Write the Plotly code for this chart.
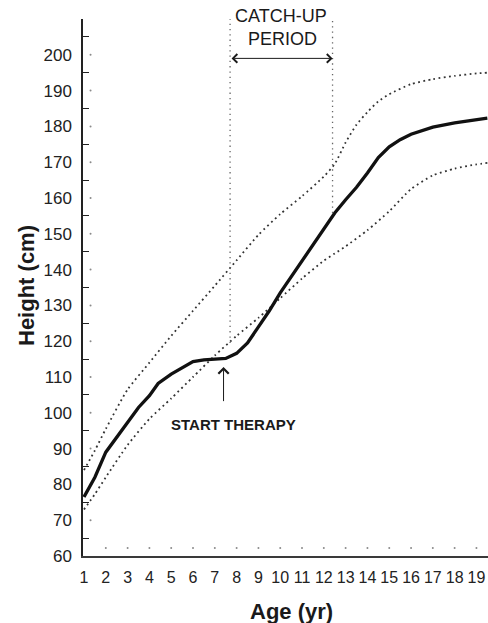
import plotly.graph_objects as go

# ---- data ----
age_main = [1, 1.5, 2, 2.5, 3, 3.5, 4, 4.4, 5, 6, 6.5, 7, 7.5, 8, 8.5, 9, 9.5, 10,
            11, 12, 12.5, 13, 13.5, 14, 14.5, 15, 15.5, 16, 17, 18, 19, 19.5]
height_main = [76.5, 82, 89, 93.3, 97.5, 101.5, 104.8, 108.2, 110.8, 114.3, 114.8, 115,
               115.2, 116.6, 119.5, 124, 128.5, 133.5, 142.5, 151.5, 155.8, 159.5, 163,
               167, 171.3, 174.3, 176.3, 177.8, 179.8, 181, 182, 182.3]

age_upper = [1, 1.5, 2, 3, 4, 5, 6, 7, 8, 9, 10, 11, 12, 12.5, 13, 13.5, 14, 14.5,
             15, 16, 17, 18, 19, 19.5]
height_upper = [84, 89.5, 95.5, 106.5, 114, 121.5, 128.5, 135.5, 142.6, 149.7, 155.5,
                160.5, 166, 169.5, 175.5, 180.5, 184, 187, 189, 191.8, 193.2, 194.1,
                194.8, 195]

age_lower = [1, 1.5, 2, 3, 4, 5, 6, 7, 8, 9, 10, 11, 12, 12.5, 13, 14, 15, 16, 17,
             18, 19, 19.5]
height_lower = [73, 77.3, 82, 91, 98.3, 104, 110, 116, 121.5, 126.5, 132, 137.5, 142.5,
                144.5, 146.5, 151, 156.3, 162.5, 166.3, 168.2, 169.4, 169.8]

x_ticks = list(range(1, 20))
y_ticks = list(range(60, 201, 10))
y_minor_ticks = list(range(65, 206, 10))

catch_up_start = 7.7
catch_up_end = 12.4
catch_up_arrow_h = 199
therapy_age = 7.4
therapy_arrow_tail = 102.7
therapy_arrow_head = 112.8
y_top = 210

FONT = "Liberation Sans, Arial, sans-serif"
INK = "#1a1a1a"

fig = go.Figure()

# faint tick dots inside the axes
fig.add_trace(go.Scatter(
    x=x_ticks[1:], y=[62.2] * (len(x_ticks) - 1), mode="markers",
    marker=dict(size=2, color="#8a8a8a"), hoverinfo="skip", showlegend=False))
fig.add_trace(go.Scatter(
    x=[1.3] * (len(y_ticks) - 1), y=y_ticks[1:], mode="markers",
    marker=dict(size=2, color="#8a8a8a"), hoverinfo="skip", showlegend=False))

# percentile limits (dotted)
for ax_, hy in ((age_upper, height_upper), (age_lower, height_lower)):
    fig.add_trace(go.Scatter(
        x=ax_, y=hy, mode="lines",
        line=dict(color="#333333", width=1.8, dash="1.8px,3.4px", shape="spline",
                  smoothing=0.6),
        hoverinfo="skip", showlegend=False))

# patient curve
fig.add_trace(go.Scatter(
    x=age_main, y=height_main, mode="lines",
    line=dict(color="#111111", width=3.3), hoverinfo="skip", showlegend=False))

# vertical catch-up period boundaries
fig.add_shape(type="line", xref="x", yref="y", x0=catch_up_start, x1=catch_up_start,
              y0=119.5, y1=y_top, line=dict(color="#666666", width=1.3, dash="1.3px,4px"))
fig.add_shape(type="line", xref="x", yref="y", x0=catch_up_end, x1=catch_up_end,
              y0=155.8, y1=y_top, line=dict(color="#666666", width=1.3, dash="1.3px,4px"))

# double-headed arrow for catch-up period
fig.add_annotation(x=catch_up_end, y=catch_up_arrow_h, ax=catch_up_start, ay=catch_up_arrow_h,
                   xref="x", yref="y", axref="x", ayref="y", text=" ", font=dict(size=1),
                   showarrow=True, arrowhead=4, startarrowhead=4, arrowside="end+start",
                   arrowsize=1.7, startarrowsize=1.7, arrowwidth=1, arrowcolor=INK)
fig.add_annotation(x=(catch_up_start + catch_up_end) / 2, y=(556 - 16) / 537,
                   xref="x", yref="paper", yanchor="middle",
                   text="CATCH-UP", showarrow=False,
                   font=dict(family=FONT, size=18, color=INK))
fig.add_annotation(x=(catch_up_start + catch_up_end) / 2 + 0.05, y=204.4, xref="x", yref="y",
                   text="PERIOD", showarrow=False,
                   font=dict(family=FONT, size=18, color=INK))

# start therapy arrow
fig.add_annotation(x=therapy_age, y=therapy_arrow_head, ax=therapy_age, ay=therapy_arrow_tail,
                   xref="x", yref="y", axref="x", ayref="y", text=" ", font=dict(size=1),
                   showarrow=True, arrowhead=4, arrowsize=2, arrowwidth=1, arrowcolor=INK)
fig.add_annotation(x=7.86, y=96.6, xref="x", yref="y", text="<b>START THERAPY</b>",
                   showarrow=False, font=dict(family=FONT, size=15, color=INK))

# axis titles
fig.add_annotation(x=(26 - 83) / 405, y=(556 - 285) / 537, xref="paper", yref="paper",
                   text="<b>Height (cm)</b>", textangle=-90, showarrow=False,
                   xanchor="center", yanchor="middle",
                   font=dict(family=FONT, size=22, color=INK))
fig.add_annotation(x=(291 - 83) / 405, y=(556 - 611) / 537, xref="paper", yref="paper",
                   text="<b>Age (yr)</b>", showarrow=False,
                   xanchor="center", yanchor="middle",
                   font=dict(family=FONT, size=22, color=INK))

fig.update_layout(
    width=488, height=623,
    margin=dict(l=83, r=0, t=19, b=67),
    paper_bgcolor="white", plot_bgcolor="white",
    showlegend=False,
    xaxis=dict(range=[0.954, 19.53], tickmode="array", tickvals=x_ticks,
               ticktext=[str(v) for v in x_ticks], ticks="", showgrid=False,
               zeroline=False, showline=True, linecolor="#3a3a3a", linewidth=2,
               tickfont=dict(family=FONT, size=16, color="#222"),
               ticklabelstandoff=6),
    yaxis=dict(range=[60, y_top], tickmode="array", tickvals=y_ticks,
               ticktext=[str(v) for v in y_ticks], ticks="", showgrid=False,
               zeroline=False, showline=True, linecolor="#222", linewidth=1.5,
               tickfont=dict(family=FONT, size=17, color="#222"),
               ticklabelstandoff=6,
               minor=dict(tickmode="array", tickvals=y_minor_ticks, ticks="inside",
                          ticklen=6, tickwidth=1, tickcolor="#222", showgrid=False)),
)

fig.write_html("out.html", config={"displayModeBar": False},
               post_script="document.body.style.margin='0';document.body.style.padding='0';")
